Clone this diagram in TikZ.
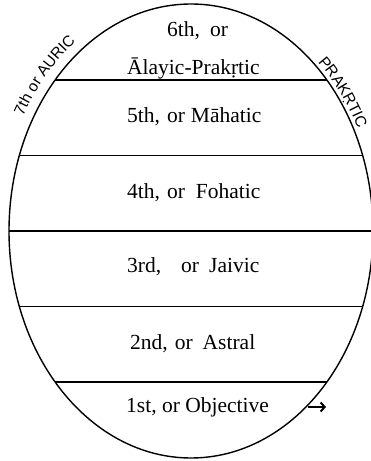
\documentclass[tikz,border=0pt]{standalone}
\usepackage{fontspec}
\setmainfont{Liberation Serif}
\setsansfont{Liberation Sans}
\usetikzlibrary{decorations.text,arrows.meta}
\newcommand\lblfont{\sffamily\fontsize{15.5}{19}\selectfont}
\begin{document}
\begin{tikzpicture}[x=1pt,y=1pt,
  layer/.style={font=\fontsize{21.5}{25}\selectfont, anchor=base west, inner sep=0pt},
  divider/.style={line width=1.1pt},
  outline/.style={line width=1.4pt}]
\useasboundingbox (0,0) rectangle (371,461);
\coordinate (c) at (191,230);
\coordinate (L1l) at (55.1,381);   \coordinate (L1r) at (326.9,381);
\coordinate (L2l) at (19.4,305.5); \coordinate (L2r) at (362.6,305.5);
\coordinate (L3l) at (9,230);      \coordinate (L3r) at (373,230);
\coordinate (L4l) at (19.4,154.5); \coordinate (L4r) at (362.6,154.5);
\coordinate (L5l) at (55.1,79);    \coordinate (L5r) at (326.9,79);
\begin{scope}
\clip (0,0) rectangle (371,461);
\draw[outline] (c) ellipse [x radius=182, y radius=227];
\draw[divider] (L1l) -- (L1r);
\draw[divider] (L2l) -- (L2r);
\draw[divider] (L3l) -- (L3r);
\draw[divider] (L4l) -- (L4r);
\draw[divider] (L5l) -- (L5r);
\end{scope}
\node[layer] (t6a) at (167,424.3) {6th,\hspace{10pt}or};
\node[layer] (t6b) at (127,386) {Ālayic-Prakṛtic};
\node[layer] (t5) at (127,338) {5th,\hspace{7pt}or\hspace{6pt}Māhatic};
\node[layer] (t4) at (127,262) {4th,\hspace{7pt}or\hspace{11pt}Fohatic};
\node[layer] (t3) at (127,188) {3rd,\hspace{20pt}or\hspace{10pt}Jaivic};
\node[layer] (t2) at (130,111) {2nd,\hspace{7pt}or\hspace{10pt}Astral};
\node[layer] (t1) at (126,48) {1st, or Objective};
\coordinate (a0) at (308,54);
\coordinate (a1) at (326,54);
\draw[line width=2pt, -{Straight Barb[length=4pt,width=9pt,line width=2pt]}] (a0) -- (a1);
\path[decorate, decoration={text along path, text={|\lblfont|7th or AURIC}, text align=left}]
  (c) ++(151:192 and 237) arc[start angle=151, end angle=100, x radius=192, y radius=237];
\path[decorate, decoration={text along path, text={|\lblfont|PRAKṚTIC}, text align=left}]
  (c) ++(47:186 and 231) arc[start angle=47, end angle=5, x radius=186, y radius=231];
\end{tikzpicture}
\end{document}
